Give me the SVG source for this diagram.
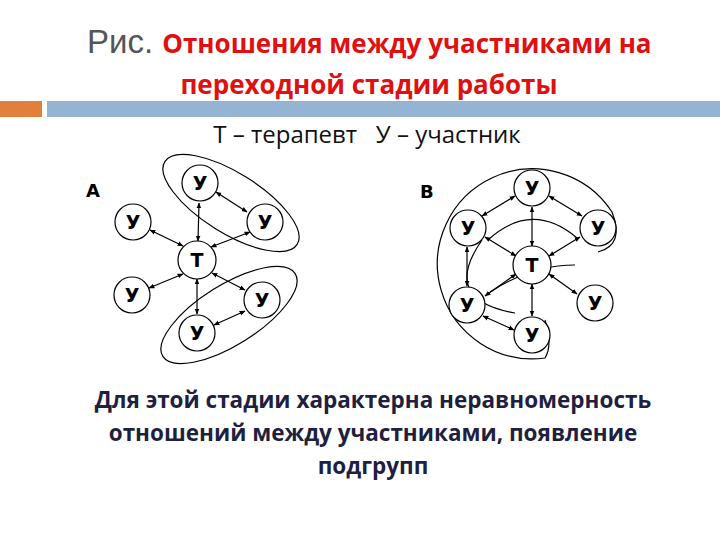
<svg xmlns="http://www.w3.org/2000/svg" width="720" height="540" viewBox="0 0 720 540">
<defs>
<marker id="ah" viewBox="0 0 10 10" refX="9" refY="5" markerWidth="5" markerHeight="5" orient="auto-start-reverse"><path d="M0,1 L10,5 L0,9 z" fill="#000"/></marker>
<style>
.n circle{fill:#fff;stroke:#000;stroke-width:1.2}
.n text{font-family:"DejaVu Sans",sans-serif;font-weight:bold;font-size:19px;text-anchor:middle;fill:#000}
#conn line{stroke:#000;stroke-width:1.2;marker-start:url(#ah);marker-end:url(#ah)}
.g{fill:none;stroke:#000;stroke-width:1.2}
.lbl{font-family:"DejaVu Sans",sans-serif;font-weight:bold;font-size:18px}
</style>
</defs>
<rect width="720" height="540" fill="#fff"/>
<text x="87" y="53" font-family="Liberation Sans Narrow, Liberation Sans, sans-serif" font-size="33" fill="#555">Рис. <tspan font-family="Open Sans, sans-serif" font-weight="bold" font-size="26" fill="#e01010">Отношения между участниками на</tspan></text>
<text x="369" y="94" text-anchor="middle" font-family="Open Sans, sans-serif" font-weight="bold" font-size="26" fill="#e01010">переходной стадии работы</text>
<rect x="0" y="101" width="42" height="16" fill="#e0803c"/>
<rect x="47" y="101" width="673" height="16" fill="#95b3d3"/>
<text x="367" y="143" text-anchor="middle" font-family="Open Sans, sans-serif" font-size="24" fill="#111" xml:space="preserve">Т – терапевт   У – участник</text>
<text class="lbl" x="86" y="197">А</text>
<text class="lbl" x="420" y="198">В</text>
<g id="groups">
<ellipse class="g" cx="231" cy="203" rx="78" ry="30" transform="rotate(32 231 203)"/>
<ellipse class="g" cx="229" cy="315" rx="78" ry="30" transform="rotate(-32 229 315)"/>
<path class="g" d="M612,212 A95,95 0 1 0 545,358 Q553,345 545,320"/>
<path class="g" d="M612,212 Q625,245 598,252"/>
<path class="g" d="M488,240 Q532,200 577,238"/>
<path class="g" d="M482,240 Q440,300 515,313"/>
<path class="g" d="M490,292 Q532,265 575,265"/>
</g>
<g id="conn">
<line x1="183" y1="246" x2="150" y2="230"/>
<line x1="183" y1="274" x2="149" y2="288"/>
<line x1="198" y1="241" x2="199" y2="203"/>
<line x1="211" y1="247" x2="250" y2="232"/>
<line x1="212" y1="273" x2="245" y2="290"/>
<line x1="197" y1="279" x2="197" y2="314"/>
<line x1="216" y1="192" x2="247" y2="212"/>
<line x1="245" y1="311" x2="214" y2="325"/>
<line x1="532" y1="207" x2="532" y2="246"/>
<line x1="485" y1="237" x2="516" y2="256"/>
<line x1="580" y1="237" x2="549" y2="256"/>
<line x1="485" y1="296" x2="516" y2="274"/>
<line x1="577" y1="294" x2="549" y2="274"/>
<line x1="532" y1="284" x2="532" y2="316"/>
<line x1="515" y1="196" x2="482" y2="216"/>
<line x1="549" y1="196" x2="582" y2="216"/>
<line x1="467" y1="247" x2="467" y2="286"/>
<line x1="483" y1="316" x2="514" y2="330"/>
</g>
<g id="T_A" class="n"><circle cx="197" cy="260" r="19"/><text x="197" y="267">Т</text></g>
<g id="UA1" class="n"><circle cx="200" cy="183" r="18"/><text x="200" y="190">У</text></g>
<g id="UA2" class="n"><circle cx="265" cy="222" r="18"/><text x="265" y="229">У</text></g>
<g id="UA3" class="n"><circle cx="133" cy="222" r="18"/><text x="133" y="229">У</text></g>
<g id="UA4" class="n"><circle cx="132" cy="295" r="18"/><text x="132" y="302">У</text></g>
<g id="UA5" class="n"><circle cx="262" cy="300" r="18"/><text x="262" y="307">У</text></g>
<g id="UA6" class="n"><circle cx="197" cy="333" r="18"/><text x="197" y="340">У</text></g>
<g id="T_B" class="n"><circle cx="532" cy="265" r="19"/><text x="532" y="272">Т</text></g>
<g id="UB1" class="n"><circle cx="532" cy="188" r="18"/><text x="532" y="195">У</text></g>
<g id="UB2" class="n"><circle cx="468" cy="228" r="18"/><text x="468" y="235">У</text></g>
<g id="UB3" class="n"><circle cx="598" cy="228" r="18"/><text x="598" y="235">У</text></g>
<g id="UB4" class="n"><circle cx="467" cy="305" r="18"/><text x="467" y="312">У</text></g>
<g id="UB5" class="n"><circle cx="595" cy="303" r="18"/><text x="595" y="310">У</text></g>
<g id="UB6" class="n"><circle cx="532" cy="335" r="18"/><text x="532" y="342">У</text></g>
<g font-family="Open Sans, sans-serif" font-weight="bold" font-size="22.5" fill="#1f1f3f" text-anchor="middle">
<text x="373" y="408">Для этой стадии характерна неравномерность</text>
<text x="373" y="441">отношений между участниками, появление</text>
<text x="373" y="474">подгрупп</text>
</g>
</svg>
